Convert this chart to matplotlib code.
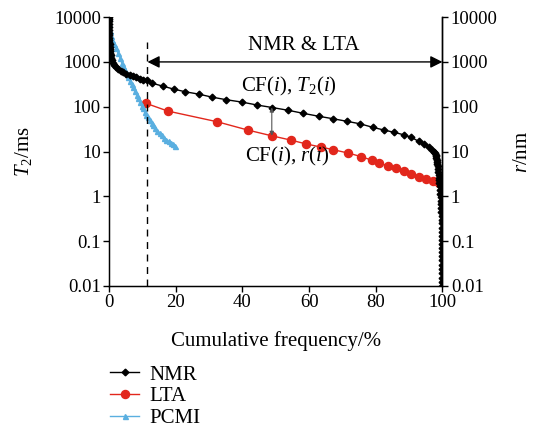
import numpy as np
import matplotlib
matplotlib.use('Agg')
import matplotlib.pyplot as plt

plt.rcParams['font.family'] = ['Liberation Serif', 'DejaVu Serif']
plt.rcParams['mathtext.fontset'] = 'custom'
plt.rcParams['mathtext.rm'] = 'Liberation Serif'
plt.rcParams['mathtext.it'] = 'Liberation Serif:italic'

# NMR: cumulative frequency (%) vs T2 (ms)
nmr_x = [0, 0, 0, 0, 0, 0, 0.05, 0.05, 0.1, 0.1, 0.1, 0.15, 0.2, 0.25, 0.3,
         0.4, 0.5, 0.6, 0.8, 1.1, 1.5, 2.0, 2.7, 3.5, 4.3, 5.2, 6.2, 7.2, 8.2,
         9.3, 10.3, 11.3, 12.8, 16.1, 19.4, 22.9, 26.9, 30.8, 35.2, 39.8, 44.4,
         48.9, 53.8, 58.3, 63.0, 67.1, 71.5, 75.3, 79.2, 82.6, 85.6, 88.4, 90.7,
         92.9, 94.4, 95.9, 96.9, 97.5, 97.9, 98.0, 98.1, 98.2, 98.3, 98.4, 98.5,
         98.6, 98.7, 98.8, 98.9, 99.0, 99.05, 99.1, 99.2, 99.3, 99.4, 99.5, 99.55, 99.6,
         99.65, 99.7, 99.75, 99.8, 99.83, 99.86, 99.9, 99.92, 99.94, 99.96, 99.97,
         99.98, 99.99, 100, 100, 100, 100, 100, 100, 100]
nmr_y = [10000, 9000, 8000, 7000, 6000, 5200, 4500, 4000, 3500, 3100, 2800,
         2500, 2200, 1950, 1750, 1550, 1400, 1250, 1100, 950, 850, 770, 690,
         630, 590, 550, 515, 480, 450, 425, 400, 390, 336, 288, 247, 215, 191,
         164, 143, 127, 109, 96, 83, 71, 61, 54, 47, 41.5, 34.5, 30, 26.7, 23.6,
         20.7, 16.8, 14.9, 12.7, 10.7, 9.8, 9.1, 8.5, 7.8, 7.2, 6.5, 5.9, 5.3,
         4.7, 4.1, 3.5, 3.0, 2.6, 2.3, 2.0, 1.7, 1.4, 1.15, 0.95, 0.8, 0.66,
         0.55, 0.45, 0.37, 0.3, 0.25, 0.2, 0.16, 0.13, 0.105, 0.085, 0.07,
         0.058, 0.047, 0.038, 0.03, 0.024, 0.019, 0.015, 0.012, 0.01]

# LTA: cumulative frequency (%) vs r (nm)
lta_x = [11.2, 17.6, 32.5, 41.7, 48.8, 54.5, 59.2, 63.5, 67.2, 71.8, 75.6,
         78.8, 81.1, 83.6, 86.1, 88.5, 90.7, 92.9, 95.1, 97.3, 99.0, 100]
lta_y = [118, 80, 46, 30, 22.4, 18, 14.7, 12.6, 11, 9.2, 7.7, 6.4, 5.5, 4.8,
         4.2, 3.6, 3.15, 2.75, 2.4, 2.15, 2.0, 1.9]

# PCMI
pcmi_x = [0, 0.1, 0.3, 0.6, 1.0, 1.5, 2.0, 2.7, 3.3, 3.8, 4.2, 4.8, 5.3, 5.7,
          6.3, 6.8, 7.2, 7.8, 8.3, 8.7, 9.3, 9.8, 10.2, 10.8, 11.2, 11.7, 12.3,
          12.8, 13.2, 13.8, 14.5, 15.2, 15.8, 16.5, 17.2, 17.9, 18.6, 19.2, 19.9]
pcmi_y = [10000, 7000, 5000, 3800, 3100, 2500, 2000, 1600, 1200, 950, 800, 650,
          540, 470, 380, 320, 280, 220, 180, 155, 125, 105, 93, 75, 66, 60, 50,
          44, 40, 34, 29, 26, 23, 20, 18.4, 16.8, 15.4, 14.5, 13.6]

yticks = [0.01, 0.1, 1, 10, 100, 1000, 10000]
ytick_labels = ['0.01', '0.1', '1', '10', '100', '1000', '10000']
xticks = [0, 20, 40, 60, 80, 100]

fig = plt.figure(figsize=(5.35, 4.28), dpi=100)
ax = fig.add_axes([0.204, 0.332, 0.623, 0.628])

ax.plot(nmr_x, nmr_y, color='black', marker='D', ms=3.4, lw=1, label='NMR', zorder=3)
ax.plot(lta_x, lta_y, color='#e2271c', marker='o', ms=5.8, lw=1, label='LTA', zorder=2)
ax.plot(pcmi_x, pcmi_y, color='#5aafe0', marker='^', ms=3.6, lw=1, label='PCMI', zorder=2)

ax.set_yscale('log')
ax.set_xlim(0, 100)
ax.set_ylim(0.01, 10000)
ax.set_yticks(yticks)
ax.set_yticklabels(ytick_labels)
ax.minorticks_off()
ax.set_xticks(xticks)
ax.tick_params(labelsize=13.5, direction='out', length=4, width=1, pad=2)
ax.spines['top'].set_visible(False)
for s in ['left', 'bottom', 'right']:
    ax.spines[s].set_linewidth(1)
ax.set_xlabel('Cumulative frequency/%', fontsize=15, labelpad=14)
ax.set_ylabel(r'$T_2$/ms', fontsize=15, labelpad=14)

ax2 = ax.twinx()
ax2.set_yscale('log')
ax2.set_ylim(0.01, 10000)
ax2.set_yticks(yticks)
ax2.set_yticklabels(ytick_labels)
ax2.minorticks_off()
ax2.tick_params(labelsize=13.5, direction='out', length=4, width=1, pad=2)
ax2.spines['top'].set_visible(False)
ax2.spines['right'].set_linewidth(1)
ax2.set_ylabel(r'$r$/nm', fontsize=15, labelpad=11)

# dashed line and annotations
ax.plot([11.5, 11.5], [0.01, 2850], color='black', ls=(0, (5, 4)), lw=1)
ax.annotate('', xy=(11.5, 1000), xytext=(100, 1000),
            arrowprops=dict(arrowstyle='<|-|>', color='black', lw=1,
                            mutation_scale=18, shrinkA=0, shrinkB=0))
ax.text(58.5, 2300, 'NMR & LTA', fontsize=15, ha='center', va='center')
ax.text(54, 290, r'CF($\mathit{i}$), $\mathit{T}_2$($\mathit{i}$)', fontsize=15,
        ha='center', va='center')
ax.text(53.5, 7.8, r'CF($\mathit{i}$), $\mathit{r}$($\mathit{i}$)', fontsize=15,
        ha='center', va='center')
ax.annotate('', xy=(48.8, 96), xytext=(48.8, 22.4),
            arrowprops=dict(arrowstyle='<|-|>', color='#555555', lw=0.8,
                            mutation_scale=6, shrinkA=0, shrinkB=0))

fig.legend(loc='lower left', bbox_to_anchor=(0.2056, 0.0), frameon=False,
           fontsize=15, handlelength=1.4, labelspacing=0.1, handletextpad=0.5,
           borderpad=0, borderaxespad=0)

fig.savefig('out.png', dpi=100)
